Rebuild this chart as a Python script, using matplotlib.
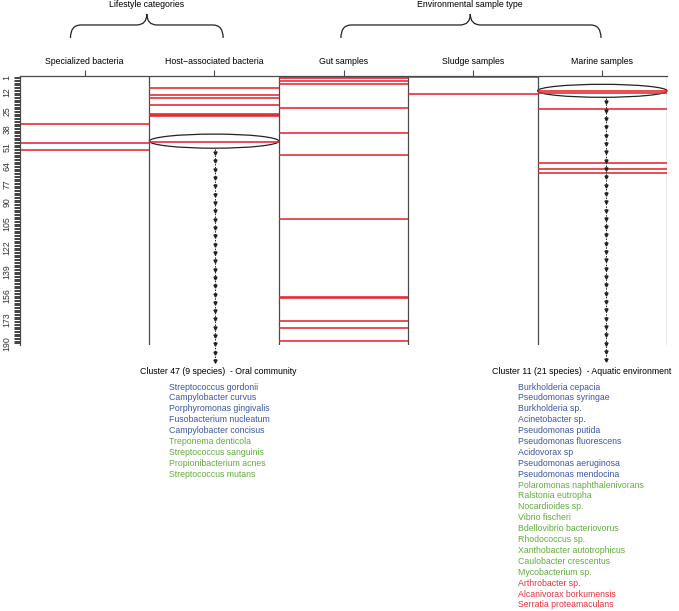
import numpy as np
import matplotlib.pyplot as plt
from matplotlib.patches import Ellipse, PathPatch
from matplotlib.path import Path

plt.rcParams['font.family'] = ['Liberation Sans', 'DejaVu Sans']

# column headers (top axis) and the row labels on the left axis
columns = ["Specialized bacteria", "Host\u2212associated bacteria", "Gut samples",
           "Sludge samples", "Marine samples"]
y_labels = [1, 12, 25, 38, 51, 64, 77, 90, 105, 122, 139, 156, 173, 190]
n_rows = 190

# clusters (rows) marked in each column
specialized_rows = [34, 48, 53]
host_rows = [9, 14, 16, 21, 27, 28, 29, 47]
gut_rows = [1, 2, 4, 6, 23, 41, 56, 102, 157, 158, 174, 179, 188]
sludge_rows = [1, 13]
marine_rows = [11, 12, 24, 62, 66, 69]

# highlighted clusters
oral_title = "Cluster 47 (9 species)  - Oral community"
oral_species = ["Streptococcus gordonii", "Campylobacter curvus", "Porphyromonas gingivalis",
                "Fusobacterium nucleatum", "Campylobacter concisus", "Treponema denticola",
                "Streptococcus sanguinis", "Propionibacterium acnes", "Streptococcus mutans"]
oral_groups = ["b", "b", "b", "b", "b", "g", "g", "g", "g"]

aquatic_title = "Cluster 11 (21 species)  - Aquatic environment"
aquatic_species = ["Burkholderia cepacia", "Pseudomonas syringae", "Burkholderia sp.",
                   "Acinetobacter sp.", "Pseudomonas putida", "Pseudomonas fluorescens",
                   "Acidovorax sp", "Pseudomonas aeruginosa", "Pseudomonas mendocina",
                   "Polaromonas naphthalenivorans", "Ralstonia eutropha", "Nocardioides sp.",
                   "Vibrio fischeri", "Bdellovibrio bacteriovorus", "Rhodococcus sp.",
                   "Xanthobacter autotrophicus", "Caulobacter crescentus", "Mycobacterium sp.",
                   "Arthrobacter sp.", "Alcanivorax borkumensis", "Serratia proteamaculans"]
aquatic_groups = ["b", "b", "b", "b", "b", "b", "b", "b", "b",
                  "g", "g", "g", "g", "g", "g", "g", "g", "g",
                  "r", "r", "r"]

group_colors = {"b": "#3d58a6", "g": "#62ad3c", "r": "#e2333b"}
line_red = "#e3262e"
frame = "#4a4a4a"
fs = 6.3


def brace(ax, x0, x1, xm, y_end, y_mid, y_peak):
    """Curly brace opening downwards, drawn in data coords (y = rows, inverted)."""
    dx = 0.08
    verts = [(x0, y_end), (x0, y_mid), (x0 + dx, y_mid),
             (xm - dx, y_mid),
             (xm, y_mid), (xm, y_peak),
             (xm, y_mid), (xm + dx, y_mid),
             (x1 - dx, y_mid),
             (x1, y_mid), (x1, y_end)]
    codes = [Path.MOVETO, Path.CURVE3, Path.CURVE3,
             Path.LINETO,
             Path.CURVE3, Path.CURVE3,
             Path.CURVE3, Path.CURVE3,
             Path.LINETO,
             Path.CURVE3, Path.CURVE3]
    ax.add_patch(PathPatch(Path(verts, codes), fill=False, lw=0.9, ec="#222222", clip_on=False))


def cluster_arrow(ax, x, start, end):
    """dotted line with small down-pointing heads, from the ellipse to the cluster text"""
    ax.plot([x, x], [start, end], color="#222222", lw=0.7, ls=(0, (1.5, 1.5)), clip_on=False)
    heads = np.arange(start + 3, end, 5.9)
    ax.plot(np.full(len(heads), x), heads, ls="none", marker="v", ms=2.2,
            color="#222222", clip_on=False)


fig = plt.figure(figsize=(6.79, 6.11), dpi=100)
ax = fig.add_axes([20 / 679, 266 / 611, 647 / 679, 269 / 611])
ax.set_xlim(0, 5)
ax.set_ylim(191.1, 0.29)

# frame: top + left + column separators, no bottom line
for side in ["bottom", "right"]:
    ax.spines[side].set_visible(False)
for side in ["top", "left"]:
    ax.spines[side].set_color(frame)
    ax.spines[side].set_linewidth(0.9)
ax.vlines(range(1, 6), 0.29, 191.1, color=frame, lw=0.9)

# red marks per column
for c, rows in enumerate([specialized_rows, host_rows, gut_rows, sludge_rows, marine_rows]):
    ax.hlines(rows, c, c + 1, color=line_red, lw=1.15)

# top axis with the column names
ax.xaxis.tick_top()
ax.set_xticks(np.arange(len(columns)) + 0.5)
ax.set_xticklabels(columns, fontsize=fs)
ax.tick_params(axis="x", length=4, width=0.8, color=frame, pad=3)

# left axis, one tick per row
ax.set_yticks(y_labels)
ax.set_yticklabels([str(v) for v in y_labels], rotation=90, va="center", fontsize=fs, color="#333333")
ax.set_yticks(np.arange(1, n_rows + 1), minor=True)
ax.tick_params(axis="y", which="both", length=4, width=0.6, color="#222222", pad=2)

# braces grouping the columns
brace(ax, 0.39, 1.57, 0.98, -26.7, -35.9, -43.7)
ax.text(0.98, -50.5, "Lifestyle categories", ha="center", va="center", fontsize=fs)
brace(ax, 2.48, 4.49, 3.48, -26.7, -35.9, -43.7)
ax.text(3.48, -50.5, "Environmental sample type", ha="center", va="center", fontsize=fs)

# highlighted clusters
ax.add_patch(Ellipse((1.5, 46.5), 1.0, 10, fill=False, lw=0.9, ec="#222222", clip_on=False))
ax.add_patch(Ellipse((4.5, 10.8), 1.0, 9.2, fill=False, lw=0.9, ec="#222222", clip_on=False))
cluster_arrow(ax, 1.51, 52, 204)
cluster_arrow(ax, 4.53, 16, 202)

line_step = 7.73
ax.text(0.927, 210.2, oral_title, ha="left", va="center", fontsize=fs, clip_on=False)
for i, (name, g) in enumerate(zip(oral_species, oral_groups)):
    ax.text(1.151, 220.9 + i * line_step, name, ha="left", va="center", fontsize=fs,
            color=group_colors[g], clip_on=False)

ax.text(3.648, 210.2, aquatic_title, ha="left", va="center", fontsize=fs, clip_on=False)
for i, (name, g) in enumerate(zip(aquatic_species, aquatic_groups)):
    ax.text(3.85, 220.9 + i * line_step, name, ha="left", va="center", fontsize=fs,
            color=group_colors[g], clip_on=False)

fig.savefig("out.png", dpi=100)
